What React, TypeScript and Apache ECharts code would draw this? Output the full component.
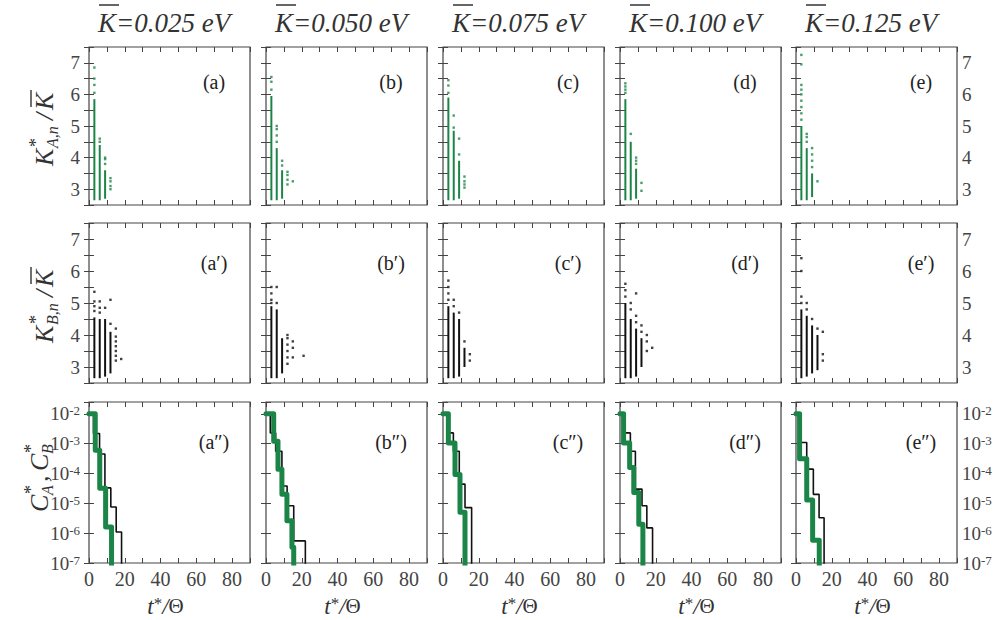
import React, { useEffect, useRef } from 'react';
import * as echarts from 'echarts';

// ---------- data ----------
const energyLabels = ['0.025', '0.050', '0.075', '0.100', '0.125'];
const panelLetters = ['a', 'b', 'c', 'd', 'e'];
const rowPrimes = ['', '\u2032', '\u2033'];
const timeTickLabels = [0, 20, 40, 60, 80];

// Row 1: K*_{A,n}/K̄  — dense vertical runs [t, low, high] and isolated points [t, value]
const kaRunsA = [[3, 2.65, 5.85], [6, 2.65, 4.4], [9, 2.7, 3.6]];
const kaDotsA = [[3, 6.05], [3, 6.3], [3, 6.5], [3, 6.85], [6, 4.5], [6, 4.6], [9, 3.8], [9, 3.95], [9, 4.0], [12, 3.0], [12, 3.1], [12, 3.25], [12, 3.35]];
const kaRunsB = [[3, 2.65, 5.95], [6, 2.65, 4.3], [9, 2.7, 3.6]];
const kaDotsB = [[3, 6.15], [3, 6.4], [3, 6.55], [6, 4.5], [6, 4.7], [6, 4.9], [6, 5.0], [9, 3.75], [9, 3.9], [12, 3.15], [12, 3.3], [12, 3.45], [12, 3.55], [15, 3.25]];
const kaRunsC = [[3, 2.65, 5.9], [6, 2.65, 4.85], [9, 2.7, 3.9]];
const kaDotsC = [[3, 6.05], [3, 6.28], [3, 6.45], [6, 4.95], [6, 5.33], [9, 4.1], [9, 4.6], [12, 3.05], [12, 3.15], [12, 3.25], [12, 3.4]];
const kaRunsD = [[3, 2.65, 5.85], [6, 2.65, 4.5], [9, 2.7, 3.65]];
const kaDotsD = [[3, 6.05], [3, 6.15], [3, 6.25], [3, 6.35], [6, 4.75], [9, 3.8], [9, 3.9], [9, 4.0], [12, 2.95], [12, 3.2]];
const kaRunsE = [[3, 2.65, 5.0], [6, 2.65, 4.3], [9, 2.75, 3.5]];
const kaDotsE = [[3, 5.2], [3, 5.4], [3, 5.6], [3, 5.8], [3, 6.0], [3, 6.15], [3, 6.3], [3, 6.95], [3, 7.25], [6, 4.5], [6, 4.65], [6, 4.75], [9, 3.7], [9, 3.9], [9, 4.1], [9, 4.3], [12, 3.25]];

// Row 2: K*_{B,n}/K̄
const kbRunsA = [[3, 2.65, 4.55], [6, 2.65, 4.5], [9, 2.7, 4.5], [12, 2.8, 4.1]];
const kbDotsA = [[3, 4.75], [3, 4.9], [3, 5.05], [3, 5.35], [6, 4.7], [6, 4.85], [6, 5.05], [9, 4.85], [12, 4.35], [12, 5.1], [15, 3.2], [15, 3.35], [15, 3.5], [15, 3.65], [15, 3.8], [15, 3.95], [15, 4.2], [18, 3.25]];
const kbRunsB = [[3, 2.65, 4.9], [6, 2.65, 4.8], [9, 2.8, 3.9]];
const kbDotsB = [[3, 5.0], [3, 5.1], [3, 5.3], [3, 5.5], [6, 5.0], [6, 5.5], [12, 3.1], [12, 3.3], [12, 3.5], [12, 3.7], [12, 3.9], [12, 4.0], [15, 3.3], [15, 3.6], [15, 3.8], [21, 3.35]];
const kbRunsC = [[3, 2.65, 4.9], [6, 2.65, 4.7], [9, 2.7, 4.5], [12, 3.0, 3.6]];
const kbDotsC = [[3, 5.1], [3, 5.3], [3, 5.5], [3, 5.7], [6, 4.9], [6, 5.1], [9, 4.7], [12, 3.8], [15, 3.2], [15, 3.4]];
const kbRunsD = [[3, 2.65, 5.0], [6, 2.65, 4.5], [9, 2.7, 4.2], [12, 3.0, 3.9]];
const kbDotsD = [[3, 5.2], [3, 5.4], [3, 5.6], [6, 4.8], [6, 5.0], [9, 4.4], [9, 4.6], [9, 5.3], [12, 4.1], [12, 4.3], [15, 3.5], [15, 3.8], [15, 4.0], [18, 3.6]];
const kbRunsE = [[3, 2.65, 4.8], [6, 2.7, 4.6], [9, 2.8, 4.3], [12, 2.9, 4.0]];
const kbDotsE = [[3, 5.0], [3, 5.2], [3, 6.0], [3, 6.4], [6, 4.8], [6, 5.0], [9, 4.5], [12, 4.2], [15, 3.2], [15, 3.4], [15, 4.1]];

// Row 3: C*_A (green) and C*_B (black) step curves — step start times and concentration levels
const cbTimesA = [0, 2.5, 5.9, 8.9, 12.2, 15.2, 18.2];
const cbValuesA = [1e-2, 2.2e-3, 4.5e-4, 3.3e-5, 7.5e-6, 1.1e-6, 1e-9];
const caTimesA = [0, 3.5, 6.0, 9.3, 12.6];
const caValuesA = [1e-2, 6e-4, 3.2e-5, 1.6e-6, 1e-9];
const cbTimesB = [0, 2.4, 5.4, 8.9, 11.8, 15.5, 22];
const cbValuesB = [1e-2, 2.3e-3, 5.6e-4, 3.8e-5, 8.3e-6, 5.5e-7, 1e-9];
const caTimesB = [0, 4.3, 6.7, 8.9, 11.7, 14.5, 15.5];
const caValuesB = [1e-2, 1.2e-3, 1.4e-4, 2e-5, 2.6e-6, 3.4e-7, 1e-9];
const cbTimesC = [0, 2.4, 5.8, 9.1, 12.3, 16];
const cbValuesC = [1e-2, 2.3e-3, 5.6e-4, 4.4e-5, 7.2e-6, 1e-9];
const caTimesC = [0, 3.0, 6.7, 9.5, 12.3];
const caValuesC = [1e-2, 1.05e-3, 9.3e-5, 5e-6, 1e-9];
const cbTimesD = [0, 2.0, 5.8, 8.6, 12.3, 15.0, 18.2];
const cbValuesD = [1e-2, 2.3e-3, 5.6e-4, 3e-5, 8.3e-6, 1.5e-6, 1e-9];
const caTimesD = [0, 2.0, 5.4, 7.7, 10.5, 12.8];
const caValuesD = [1e-2, 1.05e-3, 1.6e-4, 2.3e-5, 2e-6, 1e-9];
const cbTimesE = [0, 2.6, 6.0, 9.7, 12.9, 15.7];
const cbValuesE = [1e-2, 1.1e-3, 1.4e-4, 2e-5, 3.3e-6, 1e-9];
const caTimesE = [0, 2.0, 6.0, 9.3, 13.0];
const caValuesE = [1e-2, 3.1e-4, 1.3e-5, 5.8e-7, 1e-9];

const kaRuns = [kaRunsA, kaRunsB, kaRunsC, kaRunsD, kaRunsE];
const kaDots = [kaDotsA, kaDotsB, kaDotsC, kaDotsD, kaDotsE];
const kbRuns = [kbRunsA, kbRunsB, kbRunsC, kbRunsD, kbRunsE];
const kbDots = [kbDotsA, kbDotsB, kbDotsC, kbDotsD, kbDotsE];
const cbTimes = [cbTimesA, cbTimesB, cbTimesC, cbTimesD, cbTimesE];
const cbValues = [cbValuesA, cbValuesB, cbValuesC, cbValuesD, cbValuesE];
const caTimes = [caTimesA, caTimesB, caTimesC, caTimesD, caTimesE];
const caValues = [caValuesA, caValuesB, caValuesC, caValuesD, caValuesE];

// ---------- style / layout ----------
const FONT = 'Liberation Serif, serif';
const GREEN = '#1b8547';
const INK = '#111';
const FRAME = '#444';
const LABEL = '#444';
const PANEL_LEFTS = [89, 266, 443, 620, 796];
const PANEL_W = 161;
const ROW_TOPS = [47, 223, 402];
const ROW_H = [158, 160, 161];

function buildOption() {
  const grid: any[] = [];
  const xAxis: any[] = [];
  const yAxis: any[] = [];
  const series: any[] = [];
  const graphic: any[] = [];

  const tick = { show: true, inside: true, length: 5, lineStyle: { color: FRAME, width: 1 } };

  for (let r = 0; r < 3; r++) {
    for (let c = 0; c < 5; c++) {
      const g = r * 5 + c;
      const left = PANEL_LEFTS[c];
      const top = ROW_TOPS[r];
      const h = ROW_H[r];
      grid.push({
        left, top, width: PANEL_W, height: h, show: true,
        borderColor: FRAME, borderWidth: 1.2, backgroundColor: 'transparent',
        containLabel: false, outerBoundsMode: 'none',
      });
      ['bottom', 'top'].forEach((pos) =>
        xAxis.push({
          type: 'value', gridIndex: g, position: pos, min: 0, max: 90, interval: 10,
          axisLine: { show: false }, splitLine: { show: false }, axisTick: tick,
          axisLabel: {
            show: pos === 'bottom' && r === 2, margin: 6, fontFamily: FONT, fontSize: 20, color: LABEL,
            formatter: (v: number) => (timeTickLabels.indexOf(Math.round(v)) >= 0 && Math.abs(v - Math.round(v)) < 1e-6 ? String(Math.round(v)) : ''),
          },
        })
      );
      ['left', 'right'].forEach((pos) => {
        const showLbl = (pos === 'left' && c === 0) || (pos === 'right' && c === 4);
        if (r < 2) {
          yAxis.push({
            type: 'value', gridIndex: g, position: pos, min: 2.5, max: 7.5, interval: 0.5,
            axisLine: { show: false }, splitLine: { show: false }, axisTick: tick,
            axisLabel: {
              show: showLbl, margin: pos === 'left' ? 9 : 5, fontFamily: FONT, fontSize: 19, color: LABEL,
              formatter: (v: number) => (Math.abs(v - Math.round(v)) < 1e-6 && v > 2.6 && v < 7.4 ? String(Math.round(v)) : ''),
            },
          });
        } else {
          yAxis.push({
            type: 'log', logBase: 10, gridIndex: g, position: pos, min: 1e-7, max: 0.025,
            axisLine: { show: false }, splitLine: { show: false }, axisTick: tick,
            axisLabel: {
              show: showLbl, margin: pos === 'left' ? 9 : 5, fontFamily: FONT, fontSize: 19, color: LABEL,
              formatter: (v: number) => {
                const lg = Math.log10(v);
                const e = Math.round(lg);
                if (Math.abs(lg - e) > 0.01) return '';
                return '{b|10}{s|' + e + '}';
              },
              rich: {
                b: { fontFamily: FONT, fontSize: 19, color: LABEL },
                s: { fontFamily: FONT, fontSize: 13, color: LABEL, verticalAlign: 'top' },
              },
            },
          });
        }
      });

      const xi = 2 * g;
      const yi = 2 * g;
      if (r < 2) {
        const color = r === 0 ? GREEN : INK;
        const runs = r === 0 ? kaRuns[c] : kbRuns[c];
        const dots = r === 0 ? kaDots[c] : kbDots[c];
        series.push({
          type: 'custom', xAxisIndex: xi, yAxisIndex: yi, data: runs, silent: true,
          encode: { x: 0, y: [1, 2] },
          renderItem: (params: any, api: any) => {
            const p1 = api.coord([api.value(0), api.value(1)]);
            const p2 = api.coord([api.value(0), api.value(2)]);
            return {
              type: 'line',
              shape: { x1: p1[0], y1: p1[1], x2: p2[0], y2: p2[1] },
              style: { stroke: color, lineWidth: 2 },
            };
          },
        });
        series.push({
          type: 'scatter', xAxisIndex: xi, yAxisIndex: yi, data: dots, silent: true,
          symbol: 'rect', symbolSize: 2.4, itemStyle: { color },
        });
      } else {
        series.push({
          type: 'line', xAxisIndex: xi, yAxisIndex: yi, step: 'end', silent: true,
          showSymbol: false, symbol: 'none',
          data: cbTimes[c].map((t, i) => [t, cbValues[c][i]]),
          lineStyle: { color: INK, width: 1.6 },
        });
        series.push({
          type: 'line', xAxisIndex: xi, yAxisIndex: yi, step: 'end', silent: true,
          showSymbol: false, symbol: 'none',
          data: caTimes[c].map((t, i) => [t, caValues[c][i]]),
          lineStyle: { color: GREEN, width: 5, join: 'round', cap: 'round' },
        });
      }

      // panel tag
      graphic.push({
        type: 'text', x: left + PANEL_W - 36, y: top + (r === 0 ? 35 : 40), silent: true,
        style: {
          text: '(' + panelLetters[c] + rowPrimes[r] + ')', fontFamily: FONT, fontSize: 20,
          fill: '#222', align: 'center', verticalAlign: 'middle', textAlign: 'center', textVerticalAlign: 'middle',
        },
      });
    }
  }

  // column titles
  for (let c = 0; c < 5; c++) {
    const tx0 = PANEL_LEFTS[c] + 9;
    graphic.push({
      type: 'text', x: tx0, y: 23, silent: true,
      style: {
        text: 'K=' + energyLabels[c] + ' eV', fontFamily: FONT, fontSize: 27, fontStyle: 'italic',
        fill: '#333', align: 'left', verticalAlign: 'middle', textAlign: 'left', textVerticalAlign: 'middle',
      },
    });
    graphic.push({
      type: 'line', silent: true,
      shape: { x1: tx0 + 1, y1: 5, x2: tx0 + 21, y2: 5 },
      style: { stroke: '#333', lineWidth: 1.5 },
    });
    // x-axis title
    graphic.push({
      type: 'text', x: PANEL_LEFTS[c] + PANEL_W / 2 - 4, y: 606, silent: true,
      style: {
        text: '{i|t}{s|*}{i|/}{n|\u0398}',
        align: 'center', verticalAlign: 'middle', textAlign: 'center', textVerticalAlign: 'middle',
        rich: {
          i: { fontFamily: FONT, fontSize: 23, fontStyle: 'italic', fill: '#333', color: '#333' },
          s: { fontFamily: FONT, fontSize: 17, fill: '#333', color: '#333', verticalAlign: 'top' },
          n: { fontFamily: FONT, fontSize: 21, fill: '#333', color: '#333' },
        },
      },
    });
  }

  // rotated row titles
  const tx = (x: number, y: number, text: string, size: number, italic = true) => ({
    type: 'text', x, y, silent: true,
    style: {
      text, fontFamily: FONT, fontSize: size, fontStyle: italic ? 'italic' : 'normal', fill: '#333',
      align: 'left', verticalAlign: 'middle', textAlign: 'left', textVerticalAlign: 'middle',
    },
  });
  const kTitle = (sub: string, cy: number) => ({
    type: 'group', x: 44, y: cy, rotation: Math.PI / 2, silent: true,
    children: [
      tx(-40, 0, 'K', 26),
      tx(-21, -8, '*', 18, false),
      tx(-22, 8, sub, 16),
      tx(6, 0, '/', 26),
      tx(16, 0, 'K', 26),
      { type: 'line', shape: { x1: 19, y1: -13, x2: 36, y2: -13 }, style: { stroke: '#333', lineWidth: 1.4 } },
    ],
  });
  graphic.push(kTitle('A,n', 126));
  graphic.push(kTitle('B,n', 303));
  graphic.push({
    type: 'group', x: 39, y: 474, rotation: Math.PI / 2, silent: true,
    children: [
      tx(-38, 0, 'C', 26),
      tx(-20, -8, '*', 18, false),
      tx(-21, 8, 'A', 16),
      tx(-8, 0, ',', 26),
      tx(3, 0, 'C', 26),
      tx(21, -8, '*', 18, false),
      tx(20, 8, 'B', 16),
    ],
  });

  return { animation: false, backgroundColor: '#fff', grid, xAxis, yAxis, series, graphic };
}

export default function App() {
  const ref = useRef<HTMLDivElement>(null);
  useEffect(() => {
    if (!ref.current) return;
    const chart = echarts.init(ref.current, undefined, { renderer: 'svg' });
    chart.setOption(buildOption() as any);
    return () => chart.dispose();
  }, []);
  return (
    <div
      ref={ref}
      style={{ position: 'absolute', left: 0, top: 0, width: 997, height: 620, background: '#fff' }}
    />
  );
}
